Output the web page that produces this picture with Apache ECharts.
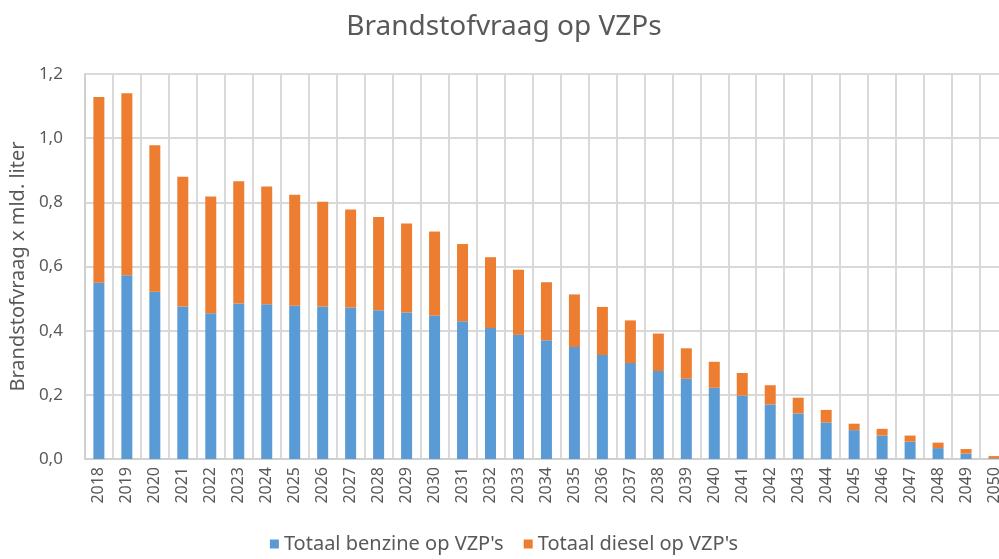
<!DOCTYPE html>
<html>
<head>
<meta charset="utf-8">
<script src="https://cdn.jsdelivr.net/npm/echarts@6/dist/echarts.min.js"></script>
<style>html,body{margin:0;padding:0;background:#fff;overflow:hidden;}#c{width:1008px;height:559px;}</style>
</head>
<body>
<div id="c"></div>
<script>
const years = ['2018','2019','2020','2021','2022','2023','2024','2025','2026','2027','2028','2029','2030','2031','2032','2033','2034','2035','2036','2037','2038','2039','2040','2041','2042','2043','2044','2045','2046','2047','2048','2049','2050'];
const benzine = [0.549,0.573,0.521,0.475,0.454,0.485,0.482,0.478,0.475,0.472,0.464,0.457,0.447,0.429,0.408,0.387,0.370,0.349,0.324,0.299,0.274,0.250,0.222,0.198,0.170,0.142,0.114,0.090,0.073,0.054,0.034,0.017,0.002];
const diesel  = [0.579,0.567,0.457,0.405,0.364,0.381,0.367,0.346,0.327,0.306,0.290,0.277,0.262,0.241,0.221,0.203,0.181,0.164,0.150,0.133,0.117,0.095,0.081,0.070,0.060,0.049,0.039,0.020,0.021,0.019,0.017,0.014,0.007];
const yTicks = [0,0.2,0.4,0.6,0.8,1.0,1.2];

const font = 'Noto Sans';
const chart = echarts.init(document.getElementById('c'));
chart.setOption({
  animation:false,
  textStyle:{fontFamily:font},
  title:{text:'Brandstofvraag op VZPs',left:'center',top:8,textStyle:{fontFamily:font,fontSize:28,fontWeight:'normal',color:'#595959'}},
  legend:{bottom:0,left:'center',itemWidth:9,itemHeight:9,itemGap:20,icon:'rect',
    textStyle:{fontFamily:font,fontSize:20,color:'#595959'},
    data:["Totaal benzine op VZP's","Totaal diesel op VZP's"]},
  grid:{left:84,top:74,height:385,right:0,containLabel:false},
  xAxis:{type:'category',data:years,
    axisLine:{lineStyle:{color:'#d0d0d0',width:2}},
    axisTick:{show:false},
    splitLine:{show:true,lineStyle:{color:'#d9d9d9',width:2}},
    axisLabel:{rotate:90,fontFamily:font,fontSize:16,color:'#595959',margin:8,interval:0}},
  yAxis:{type:'value',min:0,max:1.2,interval:0.2,
    name:'Brandstofvraag x mld. liter',nameLocation:'middle',nameGap:56,
    nameTextStyle:{fontFamily:font,fontSize:20,color:'#595959'},
    axisLine:{show:true,lineStyle:{color:'#d0d0d0',width:2}},
    axisTick:{show:false},
    splitLine:{show:true,lineStyle:{color:'#d9d9d9',width:2}},
    axisLabel:{fontFamily:font,fontSize:17,color:'#595959',margin:22,
      formatter:v=>v.toFixed(1).replace('.',',')}},
  series:[
    {name:"Totaal benzine op VZP's",type:'bar',stack:'a',data:benzine,barWidth:11,itemStyle:{color:'#5B9BD5'}},
    {name:"Totaal diesel op VZP's",type:'bar',stack:'a',data:diesel,barWidth:11,itemStyle:{color:'#ED7D31'}}
  ]
});
</script>
</body>
</html>
